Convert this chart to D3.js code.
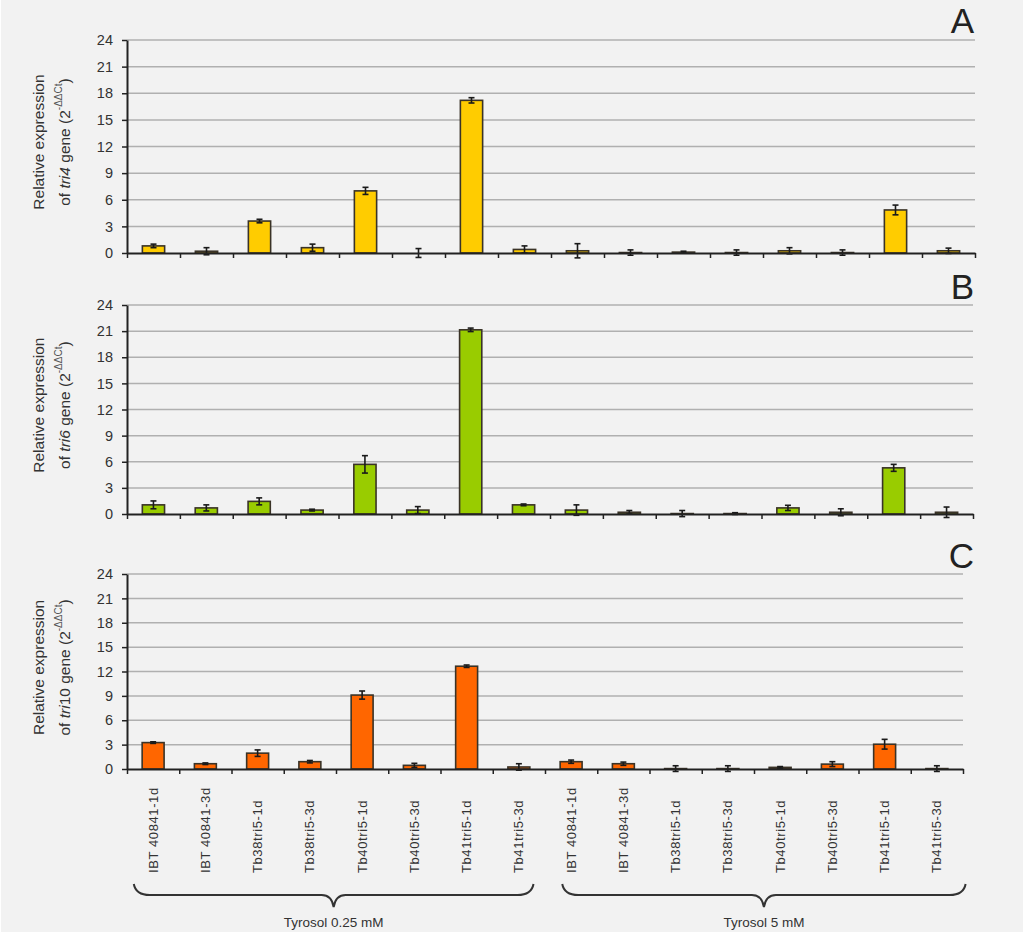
<!DOCTYPE html>
<html>
<head>
<meta charset="utf-8">
<script src="https://cdn.jsdelivr.net/npm/d3@7"></script>
<style>
  body { margin: 0; background: #fff; }
  svg { display: block; font-family: "Liberation Sans", Arial, sans-serif; }
</style>
</head>
<body>
<div id="container"></div>
<script>
/* DATA */
const categories = ["IBT 40841-1d", "IBT 40841-3d", "Tb38tri5-1d", "Tb38tri5-3d",
  "Tb40tri5-1d", "Tb40tri5-3d", "Tb41tri5-1d", "Tb41tri5-3d",
  "IBT 40841-1d", "IBT 40841-3d", "Tb38tri5-1d", "Tb38tri5-3d",
  "Tb40tri5-1d", "Tb40tri5-3d", "Tb41tri5-1d", "Tb41tri5-3d"]
const groups = ["Tyrosol 0.25 mM", "Tyrosol 5 mM"]
const yTicks = [0, 3, 6, 9, 12, 15, 18, 21, 24]

const tri4Values = [0.8, 0.2, 3.6, 0.6, 7.0, 0.0, 17.2, 0.4, 0.25, 0.05, 0.1, 0.05, 0.25, 0.05, 4.85, 0.25]
const tri4Errors = [0.2, 0.4, 0.2, 0.4, 0.4, 0.5, 0.3, 0.4, 0.8, 0.3, 0.1, 0.3, 0.35, 0.3, 0.55, 0.3]

const tri6Values = [1.05, 0.7, 1.45, 0.45, 5.7, 0.45, 21.15, 1.05, 0.45, 0.2, 0.05, 0.05, 0.7, 0.2, 5.3, 0.2]
const tri6Errors = [0.45, 0.35, 0.4, 0.1, 1.0, 0.4, 0.2, 0.1, 0.6, 0.2, 0.35, 0.1, 0.3, 0.4, 0.4, 0.6]

const tri10Values = [3.25, 0.65, 1.95, 0.9, 9.1, 0.45, 12.65, 0.25, 0.9, 0.65, 0.05, 0.05, 0.2, 0.6, 3.05, 0.05]
const tri10Errors = [0.1, 0.1, 0.4, 0.15, 0.5, 0.25, 0.15, 0.4, 0.2, 0.2, 0.35, 0.35, 0.1, 0.3, 0.6, 0.35]

/* LAYOUT */
const width = 1024, height = 933
const axisX = 127

const panels = [
  { letter: "A", gene: ["tri4"], values: tri4Values, errors: tri4Errors, color: "#ffcc00", top: 40, bottom: 253, right: 975, letterY: 32 },
  { letter: "B", gene: ["tri6"], values: tri6Values, errors: tri6Errors, color: "#99cc00", top: 305, bottom: 514, right: 973, letterY: 298 },
  { letter: "C", gene: ["tri", "10"], values: tri10Values, errors: tri10Errors, color: "#ff6600", top: 574, bottom: 769, right: 963, letterY: 567 }
]

const svg = d3.select("#container")
  .append("svg")
  .attr("width", width)
  .attr("height", height)

svg.append("rect")
  .attr("x", 1).attr("y", 0)
  .attr("width", width - 2).attr("height", height - 1)
  .attr("fill", "#f2f2f2")

let lastX
panels.forEach(p => {
  const xScale = d3.scaleLinear().domain([0, categories.length]).range([axisX, p.right])
  const yScale = d3.scaleLinear().domain([0, 24]).range([p.bottom, p.top])
  lastX = xScale
  const g = svg.append("g")

  // gridlines
  g.selectAll(".grid")
    .data(yTicks.filter(d => d > 0))
    .join("line")
    .attr("x1", axisX).attr("x2", p.right)
    .attr("y1", d => yScale(d)).attr("y2", d => yScale(d))
    .attr("stroke", "#b0b0b0")
    .attr("stroke-width", 1.5)

  // y axis
  const yAxis = d3.axisLeft(yScale).tickValues(yTicks).tickSize(5).tickSizeOuter(0).tickPadding(9)
  const ya = g.append("g").attr("transform", `translate(${axisX},0)`).call(yAxis)
  ya.select(".domain").attr("stroke", "#222").attr("stroke-width", 2)
  ya.selectAll(".tick line").attr("stroke", "#222").attr("stroke-width", 1.5)
  ya.selectAll(".tick text").attr("font-size", 14.5).attr("fill", "#333")
    .attr("font-family", "'Liberation Sans', Arial, sans-serif")

  // bars
  const bw = (xScale(1) - xScale(0)) * 0.42
  g.selectAll(".bar")
    .data(p.values)
    .join("rect")
    .attr("x", (d, i) => xScale(i + 0.5) - bw / 2)
    .attr("y", d => yScale(d))
    .attr("width", bw)
    .attr("height", d => yScale(0) - yScale(d))
    .attr("fill", p.color)
    .attr("stroke", "#3a3327")
    .attr("stroke-width", 1.6)

  // error bars
  const eb = g.selectAll(".err")
    .data(p.values.map((v, i) => ({ v, e: p.errors[i], i })))
    .join("g")
    .attr("stroke", "#1a1a1a")
    .attr("stroke-width", 1.6)
  eb.append("line")
    .attr("x1", d => xScale(d.i + 0.5)).attr("x2", d => xScale(d.i + 0.5))
    .attr("y1", d => yScale(d.v - d.e)).attr("y2", d => yScale(d.v + d.e))
  eb.append("line")
    .attr("x1", d => xScale(d.i + 0.5) - 3).attr("x2", d => xScale(d.i + 0.5) + 3)
    .attr("y1", d => yScale(d.v + d.e)).attr("y2", d => yScale(d.v + d.e))
  eb.append("line")
    .attr("x1", d => xScale(d.i + 0.5) - 3).attr("x2", d => xScale(d.i + 0.5) + 3)
    .attr("y1", d => yScale(d.v - d.e)).attr("y2", d => yScale(d.v - d.e))

  // x axis
  const xAxis = d3.axisBottom(xScale).tickValues(d3.range(categories.length + 1))
    .tickSize(5).tickSizeOuter(0).tickFormat("")
  const xa = g.append("g").attr("transform", `translate(0,${yScale(0)})`).call(xAxis)
  xa.select(".domain").attr("stroke", "#222").attr("stroke-width", 2)
  xa.selectAll(".tick line").attr("stroke", "#222").attr("stroke-width", 1.5)

  // y label
  const cy = yScale(12.5)
  g.append("text")
    .attr("transform", `translate(44,${cy}) rotate(-90)`)
    .attr("text-anchor", "middle")
    .attr("font-size", 15.5)
    .attr("fill", "#333")
    .text("Relative expression")
  const t2 = g.append("text")
    .attr("transform", `translate(70,${cy}) rotate(-90)`)
    .attr("text-anchor", "middle")
    .attr("font-size", 15.5)
    .attr("fill", "#333")
  t2.append("tspan").text("of ")
  t2.append("tspan").attr("font-style", "italic").text(p.gene[0])
  if (p.gene[1]) t2.append("tspan").text(p.gene[1])
  t2.append("tspan").text(" gene (2")
  t2.append("tspan").attr("font-size", 10).attr("dy", -8).attr("fill", "#555").text("-ΔΔCt")
  t2.append("tspan").attr("dy", 8).text(")")

  // panel letter
  g.append("text")
    .attr("x", 974).attr("y", p.letterY + 1)
    .attr("text-anchor", "end")
    .attr("font-size", 35)
    .attr("fill", "#222")
    .text(p.letter)
})

// category labels (under bottom panel)
svg.selectAll(".cat")
  .data(categories)
  .join("text")
  .attr("class", "cat")
  .attr("transform", (d, i) => `translate(${lastX(i + 0.5)},873) rotate(-90)`)
  .attr("dy", "0.35em")
  .attr("font-size", 13)
  .attr("letter-spacing", 0.6)
  .attr("fill", "#333")
  .text(d => d)

// braces
const braceSpans = [[lastX(0.13), lastX(7.78)], [lastX(8.33), lastX(16.05)]]
function brace(x1, x2) {
  const y0 = 884, ym = 895, yt = 907, xc = (x1 + x2) / 2
  return `M${x1},${y0} Q${x1 + 2},${ym} ${x1 + 16},${ym} L${xc - 12},${ym} Q${xc - 2},${ym} ${xc},${yt}` +
    ` Q${xc + 2},${ym} ${xc + 12},${ym} L${x2 - 16},${ym} Q${x2 - 2},${ym} ${x2},${y0}`
}
svg.selectAll(".brace")
  .data(braceSpans)
  .join("path")
  .attr("d", d => brace(d[0], d[1]))
  .attr("fill", "none")
  .attr("stroke", "#333")
  .attr("stroke-width", 2)

svg.selectAll(".group")
  .data(groups)
  .join("text")
  .attr("x", (d, i) => (braceSpans[i][0] + braceSpans[i][1]) / 2)
  .attr("y", 927)
  .attr("text-anchor", "middle")
  .attr("font-size", 13.5)
  .attr("fill", "#333")
  .text(d => d)
</script>
</body>
</html>
